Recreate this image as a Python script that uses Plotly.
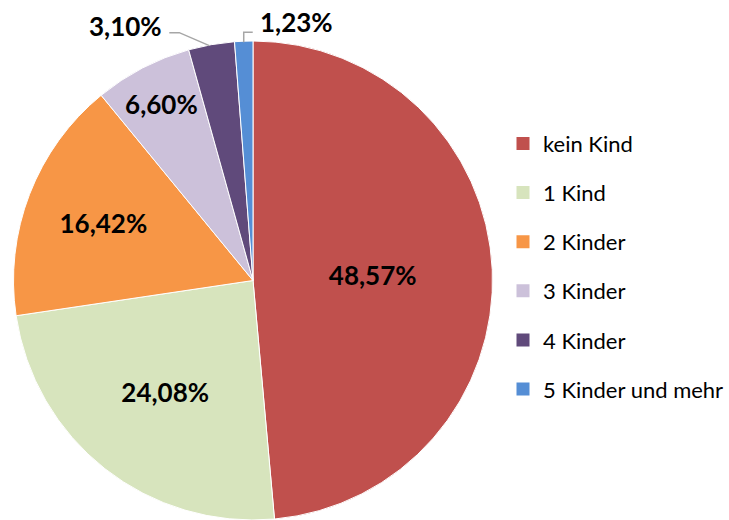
import math
import plotly.graph_objects as go

categories = ["kein Kind", "1 Kind", "2 Kinder", "3 Kinder", "4 Kinder", "5 Kinder und mehr"]
values = [48.57, 24.08, 16.42, 6.60, 3.10, 1.23]
colors = ["#C0504D", "#D7E4BD", "#F79646", "#CCC1DA", "#604A7B", "#558ED5"]
outside_idx = [4, 5]

W, H = 729, 520
CX, CY, R = 253, 281, 240  # pixel geometry of the pie (layout)
LABEL_FONT = dict(family="Lato", size=26, color="black", weight="bold")

texts = [f"{v:.2f}%".replace(".", ",") for v in values]
inside_texts = ["" if i in outside_idx else t for i, t in enumerate(texts)]

fig = go.Figure()
fig.add_trace(go.Pie(
    labels=categories,
    values=values,
    text=inside_texts,
    texttemplate="%{text}",
    textposition="inside",
    insidetextorientation="horizontal",
    textfont=LABEL_FONT,
    marker=dict(colors=colors, line=dict(color="white", width=1)),
    sort=False,
    direction="clockwise",
    rotation=0,
    showlegend=False,
    domain=dict(x=[(CX - R) / W, (CX + R) / W], y=[max(0, 1 - (CY + R) / H), 1 - (CY - R) / H]),
    hoverinfo="label+percent",
))

# legend entries (one per category, own group so that the gap can be set)
for c, col in zip(categories, colors):
    fig.add_trace(go.Scatter(
        x=[None], y=[None], mode="markers", name=c, legendgroup=c,
        marker=dict(symbol="square", size=13, color=col),
    ))


def px2paper(x, y):
    return x / W, 1 - y / H


total = sum(values)
cum = 0
mids = []
for v in values:
    mids.append((cum + v / 2) / total * 2 * math.pi)
    cum += v

shapes = []
annotations = []
for i in outside_idx:
    a = mids[i]
    ex, ey = CX + R * math.sin(a), CY - R * math.cos(a)
    if i == 4:
        pts = [(ex - 2, ey + 1), (ex - 32, ey - 12), (ex - 42, ey - 12)]
        lx, anchor = ex - 47, "right"
    else:
        pts = [(ex, ey + 1), (ex, ey - 9), (ex + 9, ey - 9)]
        lx, anchor = ex + 14, "left"
    path = "M " + " L ".join(f"{px2paper(x, y)[0]},{px2paper(x, y)[1]}" for x, y in pts)
    shapes.append(dict(type="path", path=path, xref="paper", yref="paper",
                       line=dict(color="#A6A6A6", width=1.5)))
    lxp, lyp = px2paper(lx, ey - 19)
    annotations.append(dict(x=lxp, y=lyp, xref="paper", yref="paper", text=texts[i],
                            showarrow=False, xanchor=anchor, yanchor="middle",
                            font=LABEL_FONT))

fig.update_layout(
    width=W, height=H,
    margin=dict(l=0, r=0, t=0, b=0),
    paper_bgcolor="white",
    plot_bgcolor="white",
    shapes=shapes,
    annotations=annotations,
    showlegend=True,
    xaxis=dict(visible=False),
    yaxis=dict(visible=False),
    legend=dict(x=0.69, y=0.764, xanchor="left", yanchor="top",
                font=dict(family="Lato", size=22, color="black"),
                tracegroupgap=17.5, bgcolor="rgba(0,0,0,0)"),
)

fig.write_html("out.html",
               config={"displayModeBar": False},
               post_script="document.body.style.margin='0';document.body.style.overflow='hidden';")
